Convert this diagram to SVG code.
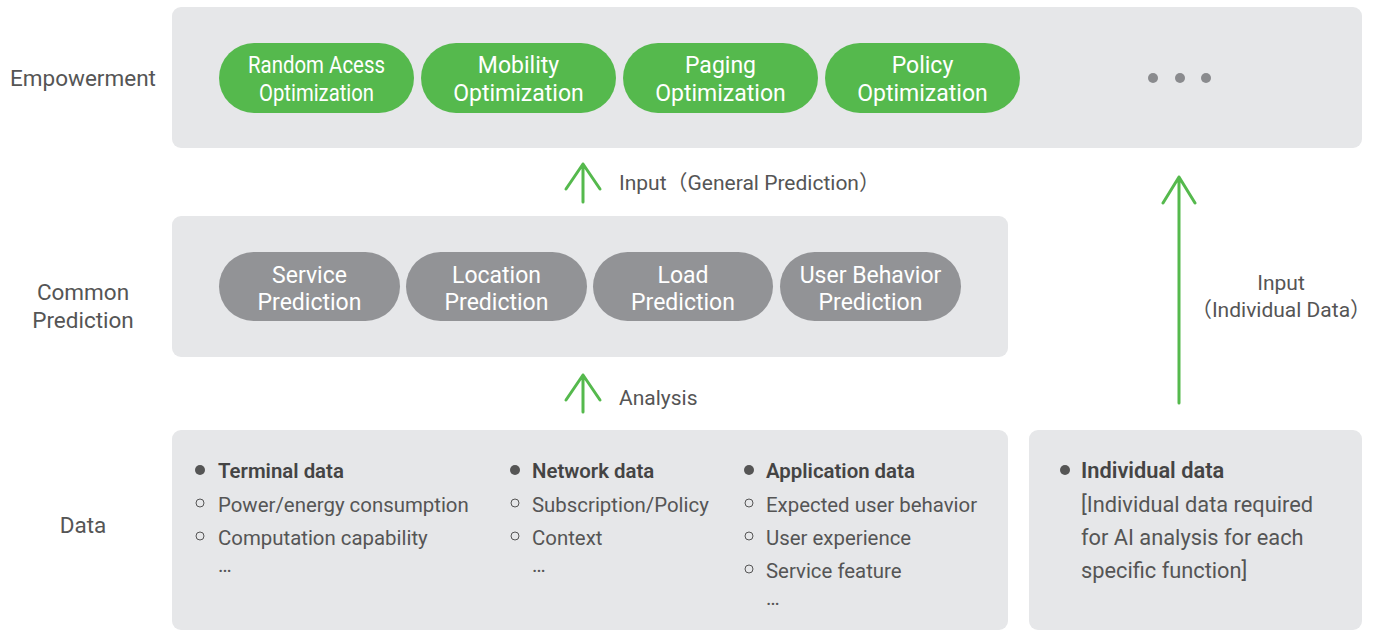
<svg xmlns="http://www.w3.org/2000/svg" width="1382" height="631" viewBox="0 0 1382 631">
<style>
.panel{fill:#e6e7e9}
.gp{fill:#55b94d}
.gy{fill:#929396}
.pt{font-family:Roboto,"Liberation Sans",sans-serif;font-size:23px;fill:#fff;text-anchor:middle}
.lbl{font-family:Roboto,"Liberation Sans",sans-serif;font-size:22.5px;fill:#555;text-anchor:middle}
.cl{font-family:Roboto,"Noto Sans CJK SC","Liberation Sans",sans-serif;font-size:21px;fill:#555}
.li{font-family:Roboto,"Liberation Sans",sans-serif;font-size:20.4px;fill:#555}
.hd{font-family:Roboto,"Liberation Sans",sans-serif;font-size:20.4px;fill:#444;font-weight:600}
.big{font-size:21.8px}
.arr{stroke:#55b94d;stroke-width:3;fill:none;stroke-linecap:round;stroke-linejoin:round}
.fb{fill:#555}
.hb{fill:none;stroke:#555;stroke-width:1}
.dot{fill:#8a8b8e}
</style>

<g id="labels">
<text class="lbl" x="83" y="86">Empowerment</text>
<text class="lbl" x="83" y="300">Common</text>
<text class="lbl" x="83" y="328">Prediction</text>
<text class="lbl" x="83" y="533">Data</text>
</g>

<g id="empowerment-panel">
<rect class="panel" x="172" y="7" width="1190" height="141" rx="9"/>
<circle class="dot" cx="1153" cy="78" r="5"/>
<circle class="dot" cx="1180" cy="78" r="5"/>
<circle class="dot" cx="1206" cy="78" r="5"/>
</g>
<g id="random-access">
<rect class="gp" x="219" y="43" width="195" height="70" rx="35"/>
<text class="pt" x="316.5" y="73" textLength="137" lengthAdjust="spacingAndGlyphs">Random Acess</text>
<text class="pt" x="316.5" y="101" textLength="115" lengthAdjust="spacingAndGlyphs">Optimization</text>
</g>
<g id="mobility">
<rect class="gp" x="421" y="43" width="195" height="70" rx="35"/>
<text class="pt" x="518.5" y="73">Mobility</text>
<text class="pt" x="518.5" y="101">Optimization</text>
</g>
<g id="paging">
<rect class="gp" x="623" y="43" width="195" height="70" rx="35"/>
<text class="pt" x="720.5" y="73">Paging</text>
<text class="pt" x="720.5" y="101">Optimization</text>
</g>
<g id="policy">
<rect class="gp" x="825" y="43" width="195" height="70" rx="35"/>
<text class="pt" x="922.5" y="73">Policy</text>
<text class="pt" x="922.5" y="101">Optimization</text>
</g>

<g id="prediction-panel">
<rect class="panel" x="172" y="216" width="836" height="141" rx="9"/>
</g>
<g id="service-pred">
<rect class="gy" x="219" y="252" width="181" height="69" rx="34.5"/>
<text class="pt" x="309.5" y="283">Service</text>
<text class="pt" x="309.5" y="310">Prediction</text>
</g>
<g id="location-pred">
<rect class="gy" x="406" y="252" width="181" height="69" rx="34.5"/>
<text class="pt" x="496.5" y="283">Location</text>
<text class="pt" x="496.5" y="310">Prediction</text>
</g>
<g id="load-pred">
<rect class="gy" x="593" y="252" width="180" height="69" rx="34.5"/>
<text class="pt" x="683" y="283">Load</text>
<text class="pt" x="683" y="310">Prediction</text>
</g>
<g id="user-pred">
<rect class="gy" x="780" y="252" width="181" height="69" rx="34.5"/>
<text class="pt" x="870.5" y="283">User Behavior</text>
<text class="pt" x="870.5" y="310">Prediction</text>
</g>

<g id="data-panel">
<rect class="panel" x="172" y="430" width="836" height="200" rx="9"/>
<circle class="fb" cx="200" cy="470" r="5"/>
<text class="hd" x="218" y="478">Terminal data</text>
<circle class="hb" cx="200" cy="503" r="4"/>
<text class="li" x="218" y="512">Power/energy consumption</text>
<circle class="hb" cx="200" cy="536" r="4"/>
<text class="li" x="218" y="545">Computation capability</text>
<text class="li" x="218" y="572">…</text>

<circle class="fb" cx="515" cy="470" r="5"/>
<text class="hd" x="532" y="478">Network data</text>
<circle class="hb" cx="515" cy="503" r="4"/>
<text class="li" x="532" y="512">Subscription/Policy</text>
<circle class="hb" cx="515" cy="536" r="4"/>
<text class="li" x="532" y="545">Context</text>
<text class="li" x="532" y="572">…</text>

<circle class="fb" cx="749" cy="470" r="5"/>
<text class="hd" x="766" y="478">Application data</text>
<circle class="hb" cx="749" cy="503" r="4"/>
<text class="li" x="766" y="512">Expected user behavior</text>
<circle class="hb" cx="749" cy="536" r="4"/>
<text class="li" x="766" y="545">User experience</text>
<circle class="hb" cx="749" cy="569" r="4"/>
<text class="li" x="766" y="578">Service feature</text>
<text class="li" x="766" y="605">…</text>
</g>

<g id="individual-panel">
<rect class="panel" x="1029" y="430" width="333" height="200" rx="9"/>
<circle class="fb" cx="1065" cy="470" r="5"/>
<text class="hd big" x="1081" y="478">Individual data</text>
<text class="li big" x="1081" y="512">[Individual data required</text>
<text class="li big" x="1081" y="545">for AI analysis for each</text>
<text class="li big" x="1081" y="578">specific function]</text>
</g>

<g id="connectors">
<path class="arr" d="M583 202V164M566 189L583 164L600 189"/>
<path class="arr" d="M583 412V375M566 400L583 375L600 400"/>
<path class="arr" d="M1179 403V177M1163 203L1179 177L1195 203"/>
<text class="cl" x="619" y="190">Input（General Prediction）</text>
<text class="cl" x="619" y="405">Analysis</text>
<text class="cl" x="1281" y="290" text-anchor="middle">Input</text>
<text class="cl" x="1281" y="317" text-anchor="middle">（Individual Data）</text>
</g>
</svg>
